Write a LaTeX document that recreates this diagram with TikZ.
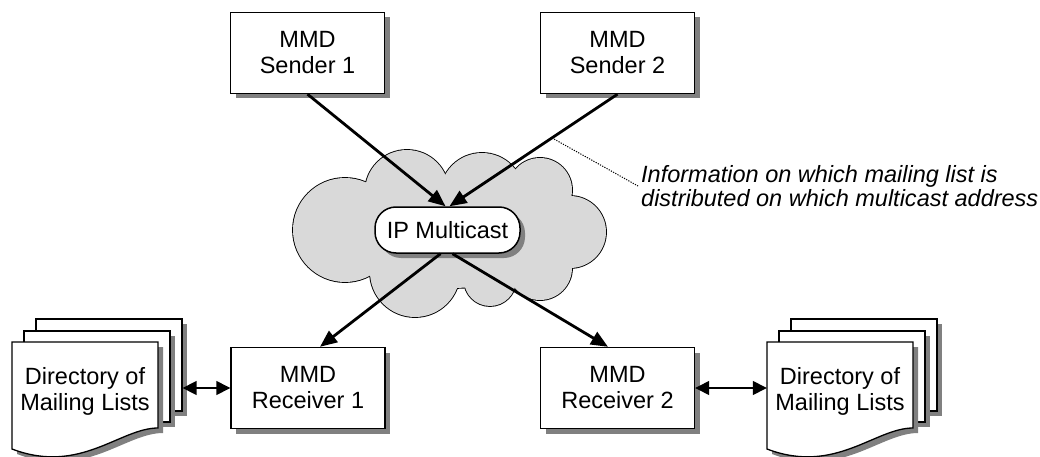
\documentclass[tikz,border=0pt]{standalone}
\usepackage{fontspec}
\setmainfont{Liberation Sans}
\usetikzlibrary{arrows.meta,shadows}

\definecolor{cloudfill}{HTML}{D9D9D9}
\definecolor{shadowgray}{HTML}{808080}

\newcommand\diagfont{\fontsize{23.5}{26}\selectfont}
\newcommand\notefont{\fontsize{23.5}{24.5}\selectfont\itshape}

\tikzset{
  boxshadow/.style={drop shadow={shadow xshift=5pt, shadow yshift=-5pt, fill=shadowgray, opacity=1}},
  mmdbox/.style={draw, line width=1.4pt, fill=white, minimum width=154pt, minimum height=81pt,
    align=center, boxshadow},
  mcast/.style={draw, line width=1.5pt, fill=white, rounded corners=21pt, minimum width=145pt,
    minimum height=46pt, inner xsep=0pt, boxshadow},
  pagesheet/.style={draw, line width=1.3pt, fill=white, boxshadow},
  pagefront/.style={draw, line width=1.3pt, fill=white},
  flow/.style={line width=2.8pt, -{Triangle[length=17pt,width=14pt]}},
  link/.style={line width=1.4pt, {Triangle[length=14pt,width=14pt]}-{Triangle[length=14pt,width=14pt]}},
  noteline/.style={line width=1pt, dash pattern=on 1.2pt off 1.3pt},
  puff/.style={line width=1.8pt},
}

% stack of three sheets (directory of mailing lists)
\newcommand\dirstack[2]{%
  \begin{scope}[xshift=#1pt]
    \node[pagesheet, minimum width=146pt, minimum height=92pt] (#2-back) at (109,365) {};
    \node[pagesheet, minimum width=146pt, minimum height=91pt] (#2-mid) at (97,376.5) {};
    \fill[shadowgray, shift={(5,5)}] (12,342) -- (158,342) -- (158,428)
      .. controls (120,428) and (80,475) .. (12,449) -- cycle;
    \draw[pagefront] (12,342) -- (158,342) -- (158,428)
      .. controls (120,428) and (80,475) .. (12,449) -- cycle;
    \node[minimum width=146pt, align=center, inner xsep=0pt] (#2) at (85,391) {Directory of\\Mailing Lists};
  \end{scope}}

\begin{document}
\begin{tikzpicture}[x=1pt, y=-1pt, font=\diagfont]
\useasboundingbox (0,0) rectangle (1040,457);

% network cloud: union of puffs, outline first, then fill
\def\puffs{345/230/52, 407/192/42, 482/195/42, 540/190/32, 570/232/36, 540/268/32, 490/280/26, 415/272/45}
\foreach \cx/\cy/\rr in \puffs {\draw[puff] (\cx,\cy) circle[radius=\rr pt];}
\draw[puff] (451,233) ellipse[x radius=110pt, y radius=55pt];
\foreach \cx/\cy/\rr in \puffs {\fill[cloudfill] (\cx,\cy) circle[radius=\rr pt];}
\fill[cloudfill] (451,233) ellipse[x radius=110pt, y radius=55pt];

% senders and receivers
\node[mmdbox] (s1) at (307.5,53) {MMD\\Sender 1};
\node[mmdbox] (s2) at (617.5,53) {MMD\\Sender 2};
\node[mmdbox] (rx1) at (308,388) {MMD\\Receiver 1};
\node[mmdbox] (rx2) at (617.5,388) {MMD\\Receiver 2};

% multicast group
\node[mcast] (ip) at (447.5,230) {IP Multicast};

% directories
\dirstack{0}{dirA}
\dirstack{755}{dirB}

% annotation
\node[anchor=west, align=left, font=\notefont, inner sep=0pt] (note) at (641,186)
  {Information on which mailing list is\\distributed on which multicast address};

% connectors
\draw[flow] (s1.south) -- ([xshift=-2pt]ip.north);
\draw[flow] (s2.south) -- coordinate[pos=.39] (tap) ([xshift=2pt]ip.north);
\draw[flow] ([xshift=-7pt]ip.south) -- ([xshift=12pt]rx1.north);
\draw[flow] ([xshift=5pt]ip.south) -- ([xshift=-9.5pt]rx2.north);
\draw[link] (rx1.west -| dirA-back.east) -- (rx1.west);
\draw[link] (rx2.east) -- (rx2.east -| dirB.west);
\draw[noteline] (tap) -- ([xshift=-3pt]note.west);
\end{tikzpicture}
\end{document}
